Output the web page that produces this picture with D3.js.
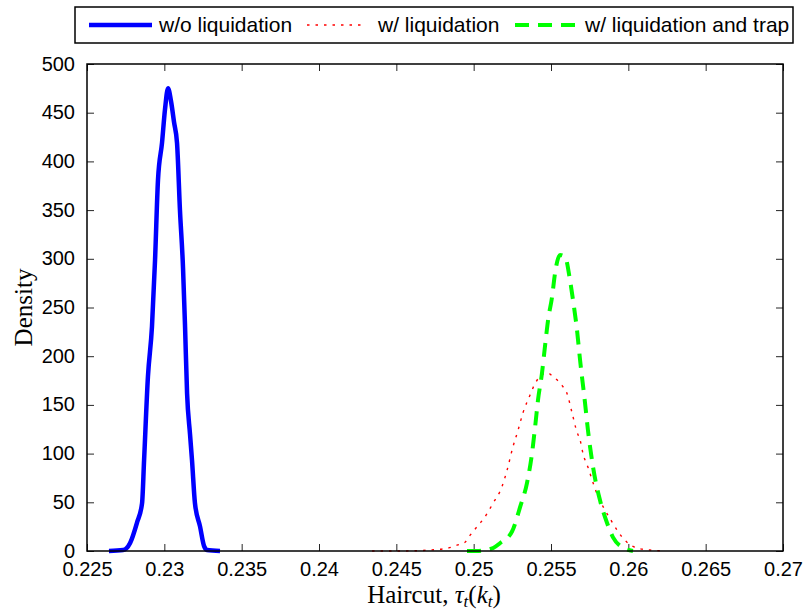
<!DOCTYPE html>
<html><head><meta charset="utf-8">
<script src="https://cdn.jsdelivr.net/npm/d3@7"></script>
<style>body{margin:0;background:#fff}svg{display:block}</style>
</head><body>
<script>
// ---- data ----
const xTicks = [0.225,0.23,0.235,0.24,0.245,0.25,0.255,0.26,0.265,0.27];
const xTickLabels = ["0.225","0.23","0.235","0.24","0.245","0.25","0.255","0.26","0.265","0.27"];
const yTicks = [0,50,100,150,200,250,300,350,400,450,500];
const seriesNames = ["w/o liquidation","w/ liquidation","w/ liquidation and trap"];

const blueX = [0.22642,0.22733,0.22778,0.22823,0.22856,0.22869,0.22894,0.22920,0.22940,0.22959,0.22985,0.23004,0.23024,0.23043,0.23063,0.23082,0.23101,0.23121,0.23134,0.23147,0.23166,0.23179,0.23198,0.23231,0.23257,0.23276,0.23360];
const blueY = [0,1,8,29,49,93,179,230,299,381,419,453,475,462,440,419,350,290,230,162,120,93,49,25,5,1,0];

const redX = [0.24343,0.24524,0.24718,0.24834,0.24892,0.24944,0.24976,0.25022,0.25073,0.25125,0.25183,0.25216,0.25254,0.25287,0.25319,0.25364,0.25397,0.25442,0.25474,0.25513,0.25571,0.25603,0.25636,0.25668,0.25688,0.25707,0.25739,0.25772,0.25804,0.25849,0.25894,0.25933,0.25991,0.26056,0.26140,0.26224];
const redY = [0,0,1,3,6,9,16,25,35,49,66,83,107,124,142,160,172,181,183,179,170,162,142,122,114,100,86,70,56,42,30,20,9,3,1,0];

const greenX = [0.24957,0.25022,0.25125,0.25170,0.25248,0.25300,0.25345,0.25377,0.25397,0.25416,0.25442,0.25461,0.25481,0.25507,0.25526,0.25558,0.25591,0.25623,0.25642,0.25668,0.25688,0.25720,0.25739,0.25772,0.25817,0.25862,0.25901,0.25959,0.26030];
const greenY = [0,0,3,8,20,45,70,100,127,155,183,210,237,261,285,304,302,278,258,227,196,152,124,86,52,29,14,4,0];

// ---- layout ----
const W = 804, H = 615;
const m = {left:87, right:21, top:64, bottom:64};
const pw = W - m.left - m.right, ph = H - m.top - m.bottom;

const svg = d3.select("body").append("svg").attr("width",W).attr("height",H);
const x = d3.scaleLinear().domain([0.225,0.27]).range([m.left, m.left+pw]);
const y = d3.scaleLinear().domain([0,500]).range([m.top+ph, m.top]);

const tickFont = "'Liberation Sans', Arial, sans-serif";
const serif = "'Liberation Serif', 'Times New Roman', serif";

// ticks (inward, all sides)
const tl = 7;
const g = svg.append("g");
const xAxB = d3.axisBottom(x).tickValues(xTicks).tickSize(-tl).tickFormat((d,i)=>xTickLabels[i]).tickPadding(11);
const xAxT = d3.axisTop(x).tickValues(xTicks).tickSize(-tl).tickFormat("");
const yAxL = d3.axisLeft(y).tickValues(yTicks).tickSize(-tl).tickFormat(d3.format("d")).tickPadding(12);
const yAxR = d3.axisRight(y).tickValues(yTicks).tickSize(-tl).tickFormat("");

function styleAxis(sel){
  sel.select(".domain").remove();
  sel.selectAll(".tick line").attr("stroke","#262626").attr("stroke-width",1);
  sel.selectAll("text").attr("fill","#000").style("font-family",tickFont).style("font-size","20px");
}
g.append("g").attr("transform",`translate(0,${m.top+ph})`).call(xAxB).call(styleAxis);
g.append("g").attr("transform",`translate(0,${m.top})`).call(xAxT).call(styleAxis);
const yl = g.append("g").attr("transform",`translate(${m.left},0)`).call(yAxL).call(styleAxis);
yl.selectAll(".tick text").attr("dy","0.3em");
g.append("g").attr("transform",`translate(${m.left+pw},0)`).call(yAxR).call(styleAxis);

// series
const line = d3.line().x(d=>x(d[0])).y(d=>y(d[1])).curve(d3.curveMonotoneX);
const zipS = (a,b)=>a.map((v,i)=>[v,b[i]]);

svg.append("path").datum(zipS(redX,redY)).attr("d",line)
  .attr("fill","none").attr("stroke","#ff0000").attr("stroke-width",1.4).attr("stroke-dasharray","2.5,6");
svg.append("path").datum(zipS(greenX,greenY)).attr("d",line)
  .attr("fill","none").attr("stroke","#00ff00").attr("stroke-width",4).attr("stroke-dasharray","14,9");
svg.append("path").datum(zipS(blueX,blueY)).attr("d",line)
  .attr("fill","none").attr("stroke","#0000ff").attr("stroke-width",4.5).attr("stroke-linejoin","round");

// box
svg.append("rect").attr("x",m.left).attr("y",m.top).attr("width",pw).attr("height",ph)
  .attr("fill","none").attr("stroke","#000").attr("stroke-width",1.5);

// axis labels
svg.append("text").attr("x",434).attr("y",603).attr("text-anchor","middle")
  .style("font-family",serif).style("font-size","25px").attr("fill","#000")
  .html('Haircut, <tspan font-style="italic">τ</tspan><tspan font-style="italic" font-size="17px" dy="4">t</tspan><tspan dy="-4">(</tspan><tspan font-style="italic">k</tspan><tspan font-style="italic" font-size="17px" dy="4">t</tspan><tspan dy="-4">)</tspan>');
svg.append("text").attr("transform",`translate(32,${m.top+ph/2}) rotate(-90)`).attr("text-anchor","middle")
  .style("font-family",serif).style("font-size","25px").attr("fill","#000").text("Density");

// legend
const lg = svg.append("g");
lg.append("rect").attr("x",75).attr("y",7).attr("width",718).attr("height",36)
  .attr("fill","#fff").attr("stroke","#000").attr("stroke-width",1.5);
const legItems = [
  {x1:89,x2:152,tx:159,color:"#0000ff",w:4.5,dash:null},
  {x1:307,x2:366,tx:378,color:"#ff0000",w:1.4,dash:"2.5,6"},
  {x1:515,x2:577,tx:585,color:"#00ff00",w:4,dash:"14,9"}
];
legItems.forEach((it,i)=>{
  const l = lg.append("line").attr("x1",it.x1).attr("x2",it.x2).attr("y1",25).attr("y2",25)
    .attr("stroke",it.color).attr("stroke-width",it.w);
  if(it.dash) l.attr("stroke-dasharray",it.dash);
  lg.append("text").attr("x",it.tx).attr("y",32).text(seriesNames[i])
    .style("font-family",tickFont).style("font-size","21px").attr("fill","#000");
});
</script>
</body></html>
